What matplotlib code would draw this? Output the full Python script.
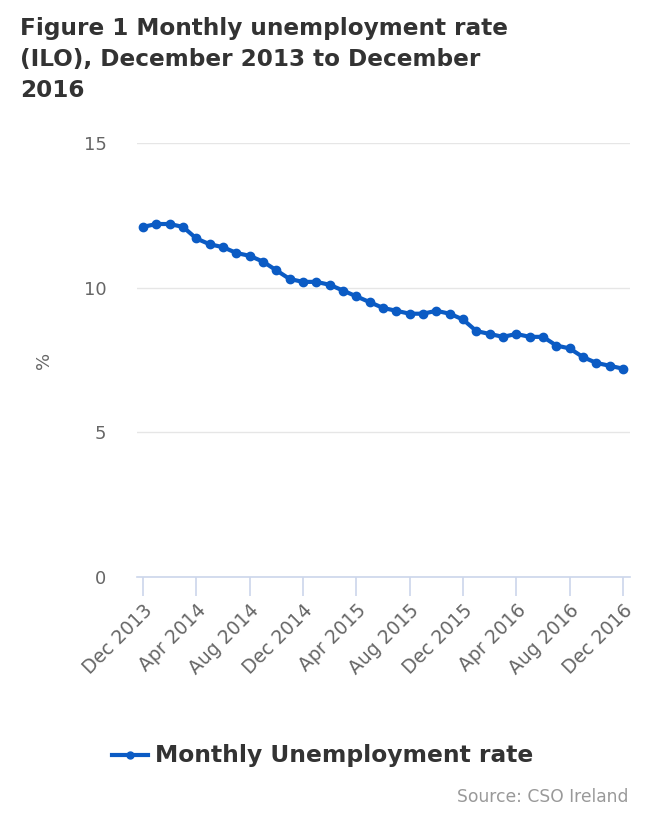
import matplotlib
matplotlib.use("Agg")
import matplotlib.pyplot as plt
import numpy as np

months = ["Dec 2013","Jan 2014","Feb 2014","Mar 2014","Apr 2014","May 2014","Jun 2014","Jul 2014",
          "Aug 2014","Sep 2014","Oct 2014","Nov 2014","Dec 2014","Jan 2015","Feb 2015","Mar 2015",
          "Apr 2015","May 2015","Jun 2015","Jul 2015","Aug 2015","Sep 2015","Oct 2015","Nov 2015",
          "Dec 2015","Jan 2016","Feb 2016","Mar 2016","Apr 2016","May 2016","Jun 2016","Jul 2016",
          "Aug 2016","Sep 2016","Oct 2016","Nov 2016","Dec 2016"]
rate = [12.1, 12.2, 12.2, 12.1, 11.7, 11.5, 11.4, 11.2, 11.1, 10.9, 10.6, 10.3, 10.2,
        10.2, 10.1, 9.9, 9.7, 9.5, 9.3, 9.2, 9.1, 9.1, 9.2, 9.1, 8.9, 8.5, 8.4, 8.3,
        8.4, 8.3, 8.3, 8.0, 7.9, 7.6, 7.4, 7.3, 7.2]
yticks = [0, 5, 10, 15]
tick_every = 4

W, H = 650, 813
fig = plt.figure(figsize=(W/100, H/100), dpi=100)
# axes: left 137, right 630, top 143, bottom 577 (pixels)
ax = fig.add_axes([137/W, 1-577/H, (630-137)/W, (577-143)/H])

x = np.arange(len(rate))
color = "#0b5bc4"
ax.plot(x, rate, color=color, lw=3, marker="o", ms=6, zorder=3)

px_per = (623-143)/36
ax.set_xlim(0 - (143-137)/px_per, 36 + (630-623)/px_per)
ax.set_ylim(0, 15)
ax.set_yticks(yticks)
ax.yaxis.grid(True, color="#e6e6e6", lw=1)
ax.set_axisbelow(True)
for s in ["top", "right", "left"]:
    ax.spines[s].set_visible(False)
ax.spines["bottom"].set_color("#ccd6eb")
ax.spines["bottom"].set_linewidth(1.2)
ax.tick_params(axis="y", length=0, labelsize=13, labelcolor="#666666", pad=22)
tick_pos = x[::tick_every]
ax.set_xticks(tick_pos)
ax.set_xticklabels([months[i] for i in tick_pos], rotation=45, ha="right",
                   rotation_mode="anchor", fontsize=13.5, color="#666666")
ax.tick_params(axis="x", length=14, width=1.2, color="#ccd6eb", pad=3)
ax.set_ylabel("%", color="#666666", fontsize=13, va="center")
ax.yaxis.set_label_coords((44-137)/(630-137), 0.5)

fig.text(20/W, 1-17/H, "Figure 1 Monthly unemployment rate\n(ILO), December 2013 to December\n2016",
         ha="left", va="top", fontsize=16.7, fontweight="bold", color="#333333",
         linespacing=1.45)

# legend
ly = 1-755/H
fig.lines.append(plt.Line2D([112/W, 148/W], [ly, ly], transform=fig.transFigure,
                            color=color, lw=3, marker=None))
fig.lines.append(plt.Line2D([130/W], [ly], transform=fig.transFigure,
                            color=color, marker="o", ms=5))
fig.text(155/W, ly, "Monthly Unemployment rate", ha="left", va="center",
         fontsize=16.8, fontweight="bold", color="#333333")

fig.text(628/W, 1-797/H, "Source: CSO Ireland", ha="right", va="center",
         fontsize=12.3, color="#999999")

fig.savefig("out.png", dpi=100)
